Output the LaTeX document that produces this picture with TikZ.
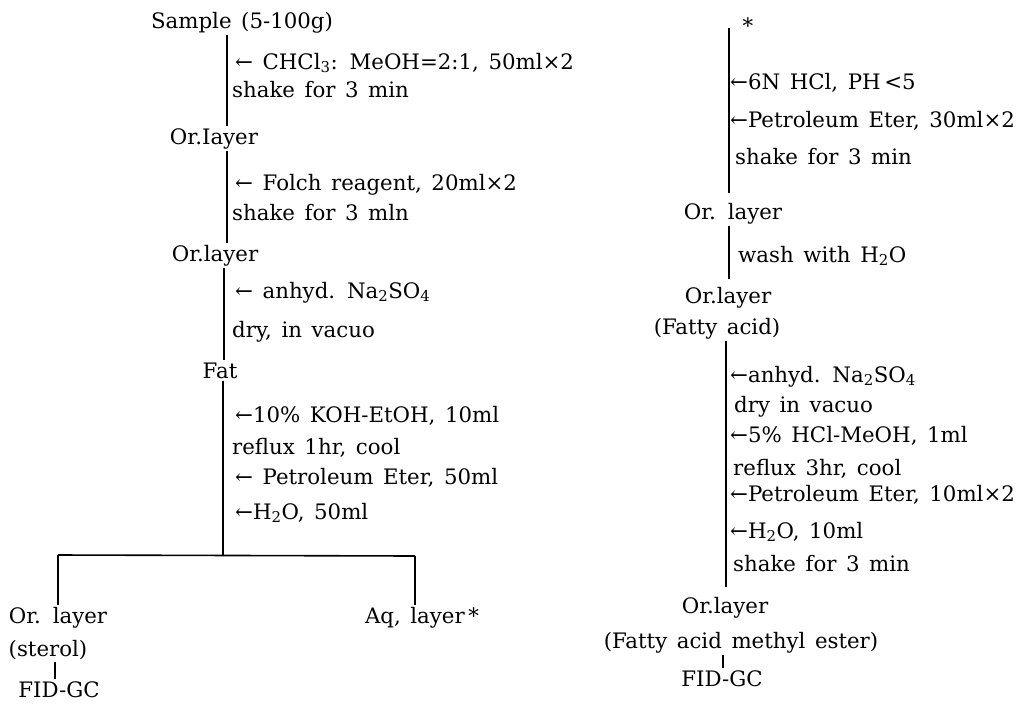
\documentclass[tikz,border=0pt]{standalone}
\usepackage{fontspec}
\setmainfont{DejaVu Serif}
\newcommand\flowfont{\fontsize{21.3}{25}\selectfont\spaceskip=0.45em plus 0.1em minus 0.1em\relax}
\newcommand\sbs[1]{\textsubscript{#1}}
\begin{document}
\begin{tikzpicture}[x=1pt,y=-1pt,
  every node/.style={font=\flowfont},
  main/.style={anchor=base,inner sep=2pt},
  stepbox/.style={anchor=base west,inner sep=0pt},
  line/.style={line width=1.6pt}]
\useasboundingbox (0,0) rectangle (1033,710);
% left column main nodes
\node[main] (sample) at (242,28) {Sample (5-100g)};
\node[main] (or1) at (214,144) {Or.Iayer};
\node[main] (or2) at (215,261) {Or.layer};
\node[main] (fat) at (220,378) {Fat};
\node[main] (orl) at (58,623) {Or. layer};
\node[main] (sterol) at (48,656) {(sterol)};
\node[main] (fid1) at (59,697) {FID-GC};
\node[main] (aq) at (422,623) {Aq, layer\,*};
% left step labels
\node[stepbox] (a1) at (235,69) {← CHCl\sbs{3}: MeOH=2:1, 50ml×2};
\node[stepbox] (a2) at (232,97) {shake for 3 min};
\node[stepbox] (b1) at (235,190) {← Folch reagent, 20ml×2};
\node[stepbox] (b2) at (232,220) {shake for 3 mln};
\node[stepbox] (c1) at (235,298) {← anhyd. Na\sbs{2}SO\sbs{4}};
\node[stepbox] (c2) at (232,337) {dry, in vacuo};
\node[stepbox] (d1) at (235,422) {←10\% KOH-EtOH, 10ml};
\node[stepbox] (d2) at (232,454) {reflux 1hr, cool};
\node[stepbox] (d3) at (235,484) {← Petroleum Eter, 50ml};
\node[stepbox] (d4) at (235,519) {←H\sbs{2}O, 50ml};
% right column main nodes
\node[main] (star) at (748,33) {*};
\node[main] (or3) at (733,219) {Or. layer};
\node[main] (or4) at (728,303) {Or.layer};
\node[main] (fa) at (717,334) {(Fatty acid)};
\node[main] (or5) at (725,613) {Or.layer};
\node[main] (fame) at (741,648) {(Fatty acid methyl ester)};
\node[main] (fid2) at (722,686) {FID-GC};
% right step labels
\node[stepbox] (e1) at (730,89) {←6N HCl, PH\,<5};
\node[stepbox] (e2) at (730,127) {←Petroleum Eter, 30ml×2};
\node[stepbox] (e3) at (735,164) {shake for 3 min};
\node[stepbox] (f1) at (738,262) {wash with H\sbs{2}O};
\node[stepbox] (g1) at (730,382) {←anhyd. Na\sbs{2}SO\sbs{4}};
\node[stepbox] (g2) at (734,412) {dry in vacuo};
\node[stepbox] (g3) at (730,442) {←5\% HCl-MeOH, 1ml};
\node[stepbox] (g4) at (733,475) {reflux 3hr, cool};
\node[stepbox] (g5) at (730,501) {←Petroleum Eter, 10ml×2};
\node[stepbox] (g6) at (730,538) {←H\sbs{2}O, 10ml};
\node[stepbox] (g7) at (733,571) {shake for 3 min};
% coordinates for connector columns
\coordinate (x1) at (227,0);
\coordinate (x3) at (224,0);
\coordinate (x4) at (223,0);
\coordinate (br) at (223,555);
\coordinate (bl) at (58,555);
\coordinate (bq) at (415,556);
\coordinate (xs) at (55,0);
\coordinate (rtop) at (729,28);
\coordinate (r3) at (726,0);
\coordinate (xs2) at (723,0);
% connectors
\draw[line] (sample.south -| x1) -- (or1.north -| x1);
\draw[line] (or1.south -| x1) -- (or2.north -| x1);
\draw[line] (or2.south -| x3) -- (fat.north -| x3);
\draw[line] (fat.south -| x4) -- (br);
\draw[line] (bl) -- (bq);
\draw[line] (bl) -- (orl.north -| bl);
\draw[line] (bq) -- (aq.north -| bq);
\draw[line] (sterol.south -| xs) -- (fid1.north -| xs);
\draw[line,shorten >=8pt] (rtop) -- (or3.north -| rtop);
\draw[line,shorten >=6pt] (or3.south -| rtop) -- (or4.north -| rtop);
\draw[line,shorten >=8pt] (fa.south -| r3) -- (or5.north -| r3);
\draw[line] (fame.south -| xs2) -- (fid2.north -| xs2);
\end{tikzpicture}
\end{document}
